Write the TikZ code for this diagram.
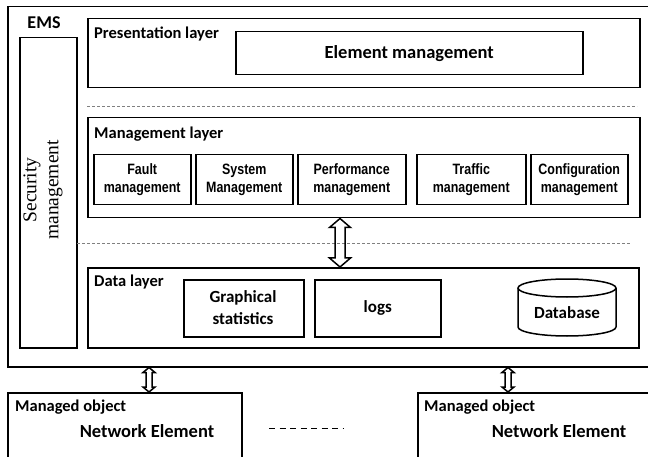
\documentclass[tikz,border=0pt]{standalone}
\usepackage{fontspec}
\setmainfont{Carlito}
\newfontfamily\arialf[FakeStretch=0.83]{Liberation Sans}
\newfontfamily\timesf{Liberation Serif}
\usetikzlibrary{calc}
\newcommand\hollowdbl[5]{%
  \draw[arrowline] let \p1=(#1), \p2=(#2) in
    (\x1-#3,\y1-#5) -- (\x1-#4,\y1-#5) -- (\x1,\y1) -- (\x1+#4,\y1-#5) -- (\x1+#3,\y1-#5)
    -- (\x2+#3,\y2+#5) -- (\x2+#4,\y2+#5) -- (\x2,\y2) -- (\x2-#4,\y2+#5) -- (\x2-#3,\y2+#5) -- cycle;}
\begin{document}
\begin{tikzpicture}[x=1pt,y=-1pt,
  box/.style={draw, line width=1.5pt, rectangle, inner sep=0pt, anchor=north west},
  sz/.style 2 args={minimum width=#1, minimum height=#2},
  lbl/.style={inner sep=0pt, font=\fontsize{16.5}{18}\selectfont\bfseries},
  big/.style={inner sep=0pt, font=\fontsize{18.5}{20}\selectfont\bfseries},
  inner/.style={inner sep=0pt, align=center, font=\fontsize{17}{22}\selectfont\bfseries},
  func/.style={box, align=center, font=\arialf\fontsize{15}{17.7}\selectfont\bfseries},
  sep/.style={draw=gray, line width=0.8pt, dash pattern=on 3pt off 2pt},
  arrowline/.style={draw, line width=1.5pt, line join=miter}]
\useasboundingbox (0,0) rectangle (648,457);
\clip (0,0) rectangle (648,457);

% outer EMS box
\node[box, sz={653}{360}] (ems) at (7,6) {};
\node[lbl, font=\fontsize{18}{18}\selectfont\bfseries] (emsl) at (44,23) {EMS};

% security management
\node[box, sz={57}{310}] (sec) at (19,37) {};
\node[inner sep=0pt, rotate=90, align=center, font=\timesf\fontsize{19.5}{22}\selectfont] (secl) at (43,190) {Security\\management};

% presentation layer
\node[box, sz={552}{69}] (pres) at (87,18) {};
\node[lbl, anchor=west] (presl) at (94,34) {Presentation layer};
\node[box, sz={347}{43}] (elem) at (235,31) {};
\node[big] (eleml) at (elem.center) {Element management};

% separators
\coordinate (s1a) at (87,106);
\coordinate (s1b) at (637,106);
\draw[sep] (s1a) -- (s1b);
\coordinate (s2a) at (77,243);
\coordinate (s2b) at (631,243);
\draw[sep] (s2a) -- (s2b);

% management layer
\node[box, sz={552}{100}] (mgmt) at (87,117) {};
\node[lbl, anchor=west] (mgmtl) at (94,134) {Management layer};
\node[func, sz={97}{50}] (fault) at (93,154) {Fault\\management};
\node[func, sz={97}{50}] (sys) at (195,154) {System\\Management};
\node[func, sz={108}{50}] (perf) at (297,154) {Performance\\management};
\node[func, sz={109}{50}] (traf) at (416,154) {Traffic\\management};
\node[func, sz={97}{50}] (conf) at (530,154) {Configuration\\management};

% data layer
\node[box, sz={551}{80}] (data) at (87,267) {};
\node[lbl, anchor=west] (datal) at (94,282.5) {Data layer};
\node[box, sz={120}{57}] (graph) at (183,279) {};
\node[inner] (graphl) at (243,307.5) {Graphical\\statistics};
\node[box, sz={126}{57}] (logs) at (314,279) {};
\node[inner] (logsl) at (logs.center) {logs};
\draw[line width=1.5pt] (518,288) -- (518,327) arc[start angle=180, end angle=360, x radius=49pt, y radius=9pt] -- (616,288);
\draw[line width=1.5pt] (567,288) ellipse [x radius=49pt, y radius=9pt];
\node[inner] (db) at (567,313) {Database};

% arrow between management and data layers
\path (mgmt.south west) ++(253,0) coordinate (bigtop);
\path (data.north west) ++(253,0) coordinate (bigbot);
\hollowdbl{bigtop}{bigbot}{5pt}{10.5pt}{9pt}

% managed objects
\node[box, sz={234}{80}] (mo1) at (7,392) {};
\node[lbl, anchor=west] (mo1l) at (15,407) {Managed object};
\node[big] (ne1) at (147,431) {Network Element};
\node[box, sz={243}{80}] (mo2) at (417,392) {};
\node[lbl, anchor=west] (mo2l) at (424,407) {Managed object};
\node[big] (ne2) at (559,431) {Network Element};
\coordinate (dsa) at (269,428);
\coordinate (dsb) at (344,428);
\draw[line width=1pt, dash pattern=on 6pt off 4.5pt] (dsa) -- (dsb);

% small arrows
\path (ems.south west) ++(142,0) coordinate (a1t);
\path (mo1.north west) ++(142,0) coordinate (a1b);
\hollowdbl{a1t}{a1b}{3pt}{6pt}{5pt}
\path (ems.south west) ++(501,0) coordinate (a2t);
\path (mo2.north west) ++(91,0) coordinate (a2b);
\hollowdbl{a2t}{a2b}{3pt}{6pt}{5pt}
\end{tikzpicture}
\end{document}
